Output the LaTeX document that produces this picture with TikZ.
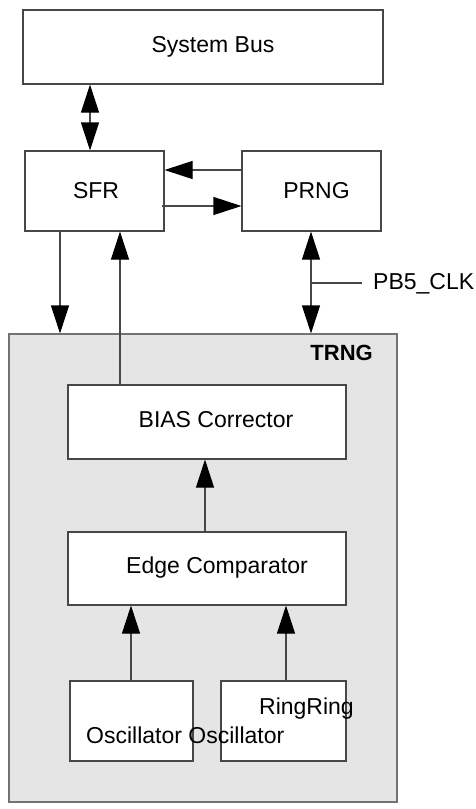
\documentclass[tikz,border=0pt]{standalone}
\usepackage{fontspec}
\setmainfont{Liberation Sans}
\usetikzlibrary{arrows.meta}
\begin{document}
\begin{tikzpicture}[x=1pt,y=-1pt,
  blk/.style={draw=black!72, fill=white, line width=1.1pt, inner sep=0pt},
  txt/.style={font=\fontsize{23}{27}\selectfont, inner sep=0pt},
  ln/.style={draw=black!72, line width=1.1pt},
  ar/.style={ln, -{Triangle[length=28pt,width=18pt,color=black,fill=black]}},
  dbl/.style={ln, {Triangle[length=28pt,width=18pt,color=black,fill=black]}-{Triangle[length=28pt,width=18pt,color=black,fill=black]}}]
\useasboundingbox (0,0) rectangle (476,809);
% boxes
\node[blk, fill=black!10, draw=black!55, minimum width=388pt, minimum height=468pt] (trng) at (203,568) {};
\node[txt, font=\fontsize{22}{26}\selectfont\bfseries, anchor=east] (trngl) at (373,353) {TRNG};
\node[blk, minimum width=360pt, minimum height=74pt, label={[txt,xshift=10pt]center:System Bus}] (bus) at (203,47) {};
\node[blk, minimum width=139pt, minimum height=80pt, label={[txt,xshift=1.5pt]center:SFR}] (sfr) at (94.5,191) {};
\node[blk, minimum width=139pt, minimum height=80pt, label={[txt,xshift=5pt]center:PRNG}] (prng) at (311.5,191) {};
\node[blk, minimum width=278pt, minimum height=74pt, label={[txt,xshift=9pt,yshift=2pt]center:BIAS Corrector}] (bias) at (207,422) {};
\node[blk, minimum width=278pt, minimum height=73pt, label={[txt,xshift=10pt,yshift=1pt]center:Edge Comparator}] (edge) at (207,568.5) {};
\node[blk, minimum width=123pt, minimum height=80pt] (osca) at (131.5,721) {};
\node[blk, minimum width=125pt, minimum height=80pt] (oscb) at (283.5,721) {};
\node[txt, anchor=west] (osct) at (86,735) {Oscillator Oscillator};
\node[txt, anchor=west] (ringt) at (259,709) {RingRing};
% helper coordinates
\coordinate (x90) at (90,0);
\coordinate (x60) at (60,0);
\coordinate (x120) at (120,0);
\coordinate (x311) at (311,0);
\coordinate (x205) at (205,0);
\coordinate (x131) at (131,0);
\coordinate (x286) at (286,0);
\coordinate (y170) at (0,170);
\coordinate (y206) at (0,206);
% connectors
\draw[dbl] (bus.south -| x90) -- (sfr.north -| x90);
\draw[ar] (prng.west |- y170) -- (sfr.east |- y170);
\draw[ar] ([xshift=-3pt]sfr.east |- y206) -- (prng.west |- y206);
\draw[ar] (sfr.south -| x60) -- (trng.north -| x60);
\draw[ar] (bias.north -| x120) -- (sfr.south -| x120);
\draw[dbl] (prng.south -| x311) -- (trng.north -| x311);
\coordinate (pb) at (311,283);
\node[txt, anchor=west] (pbl) at (373,284) {PB5\_CLK};
\draw[ln] (pb) -- ([xshift=-11pt]pbl.west |- pb);
\draw[ar] (edge.north -| x205) -- (bias.south -| x205);
\draw[ar] (osca.north -| x131) -- (edge.south -| x131);
\draw[ar] (oscb.north -| x286) -- (edge.south -| x286);
\end{tikzpicture}
\end{document}
